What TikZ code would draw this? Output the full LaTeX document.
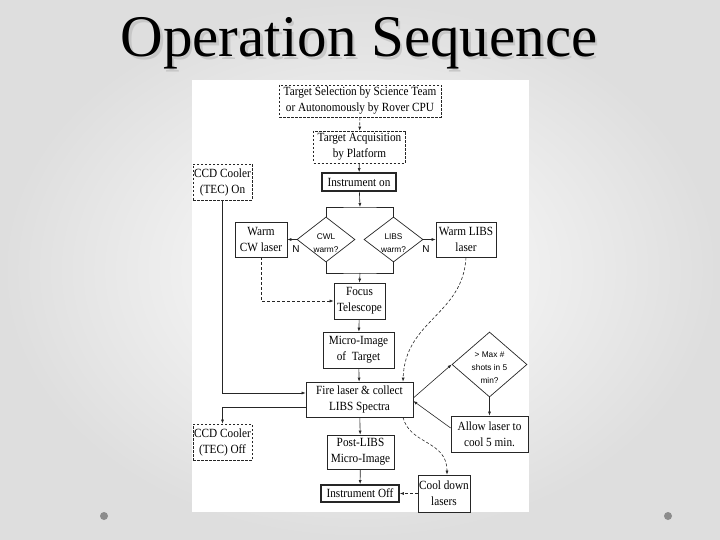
\documentclass[tikz,border=0pt]{standalone}
\usepackage{fontspec}
\setmainfont{Liberation Serif}
\newfontfamily\boxserif[FakeStretch=0.9]{Liberation Serif}
\newfontfamily\sansf{Liberation Sans}
\usetikzlibrary{arrows.meta,shapes.geometric}
\newcommand\boxfont{\boxserif\fontsize{12.5}{16}\selectfont}
\newcommand\diafont{\sansf\fontsize{8.3}{13}\selectfont}
\begin{document}
\begin{tikzpicture}[x=1pt,y=-1pt,
  box/.style={draw=black!85, line width=0.7pt, fill=white, align=center, font=\boxfont, inner sep=0pt},
  dbox/.style={box, dash pattern=on 2.5pt off 1.5pt},
  tbox/.style={box, line width=1.8pt},
  dia/.style={draw=black!85, line width=0.7pt, diamond, inner sep=0pt, fill=white},
  dtxt/.style={align=center, font=\diafont, inner sep=0pt},
  ntxt/.style={font=\sansf\fontsize{10}{10}\selectfont, inner sep=0pt},
  ln/.style={draw=black!85, line width=0.6pt},
  arr/.style={ln, -{Latex[length=4pt,width=3pt]}},
  dl/.style={dash pattern=on 3pt off 2pt}]
\useasboundingbox (0,0) rectangle (720,540);
% background
\shade[inner color=white, outer color=black!13] (0,0) rectangle (720,540);
\fill[white] (192,80) rectangle (529,512);
% title
\node[font=\fontsize{59}{60}\selectfont, text=black!22, anchor=base] (titsh) at (361.5,59.5) {Operation Sequence};
\node[font=\fontsize{59}{60}\selectfont, anchor=base] (tit) at (359,57) {Operation Sequence};
% dots
\fill[black!45] (104,516) circle (4);
\fill[black!45] (668,516) circle (4);
% nodes
\node[dbox, minimum width=162, minimum height=32] (tsel) at (360,101) {Target Selection by Science Team\\or Autonomously by Rover CPU};
\node[dbox, minimum width=92, minimum height=32] (tacq) at (359.5,147) {Target Acquisition\\by Platform};
\node[tbox, minimum width=74, minimum height=18] (ion) at (359,182) {Instrument on};
\node[dbox, minimum width=59, minimum height=36] (ccdon) at (222.5,182) {CCD Cooler\\(TEC) On};
\node[dia, minimum width=58, minimum height=45] (cwl) at (326,239.5) {};
\node[dtxt] (cwlt) at (326,243.5) {CWL\\warm?};
\node[dia, minimum width=59, minimum height=45] (libs) at (393.5,239.5) {};
\node[dtxt] (libst) at (393.5,243.5) {LIBS\\warm?};
\node[box, minimum width=52, minimum height=35] (wcw) at (261,239.5) {Warm\\CW laser};
\node[box, minimum width=60, minimum height=35] (wlibs) at (466,239.5) {Warm LIBS\\laser};
\node[ntxt] (n1) at (296,249) {N};
\node[ntxt] (n2) at (426,249) {N};
\node[box, minimum width=51, minimum height=36] (focus) at (359.5,301) {Focus\\Telescope};
\node[box, minimum width=71, minimum height=36] (micro) at (358.5,350) {Micro-Image\\of\ \ Target};
\node[box, minimum width=107, minimum height=35] (fire) at (359.5,399.5) {Fire laser \& collect\\LIBS Spectra};
\node[dia, minimum width=75, minimum height=65] (maxd) at (489.5,364.5) {};
\node[dtxt] (maxt) at (489.5,368) {> Max \#\\shots in 5\\min?};
\node[box, minimum width=77, minimum height=36] (allow) at (489.5,434) {Allow laser to\\cool 5 min.};
\node[dbox, minimum width=59, minimum height=36] (ccdoff) at (222.5,442) {CCD Cooler\\(TEC) Off};
\node[box, minimum width=67, minimum height=34] (post) at (360.5,452) {Post-LIBS\\Micro-Image};
\node[tbox, minimum width=78, minimum height=17] (ioff) at (360,493.5) {Instrument Off};
\node[box, minimum width=52, minimum height=37] (cool) at (444,493.5) {Cool down\\lasers};
% junctions
\coordinate (j1) at (360,207);
\coordinate (j2) at (360,273);
% connectors
\draw[arr, dl] (tsel) -- (tacq);
\draw[arr] (tacq) -- (ion);
\draw[arr] (ion) -- (j1);
\draw[ln] (cwl.north) |- (j1) -| (libs.north);
\draw[ln] (cwl.south) |- (j2) -| (libs.south);
\draw[arr] (j2) -- (focus.north);
\draw[arr] (cwl.west) -- (wcw.east);
\draw[arr] (libs.east) -- (wlibs.west);
\draw[arr, dl] (wcw.south) |- (focus.west);
\draw[arr, dl] (wlibs.south) .. controls (463,315) and (405,320) .. ([xshift=43.5pt]fire.north);
\draw[arr] (focus) -- (micro);
\draw[arr] (micro) -- (fire);
\draw[arr] (ccdon.south) |- ([yshift=6.5pt]fire.west);
\draw[arr] ([yshift=-7.5pt]fire.west) -| (ccdoff.north);
\draw[arr] ([yshift=1.5pt]fire.east) -- (maxd.west);
\draw[arr] (maxd.south) -- (allow.north);
\draw[arr] ([yshift=6pt]allow.west) -- ([yshift=-1.5pt]fire.east);
\draw[arr] (fire) -- (post);
\draw[arr] (post) -- (ioff);
\draw[arr, dl] ([xshift=43.5pt]fire.south) .. controls (410,445) and (447,440) .. ([xshift=3pt]cool.north);
\draw[arr, dl] (cool.west) -- (ioff.east);
\end{tikzpicture}
\end{document}
